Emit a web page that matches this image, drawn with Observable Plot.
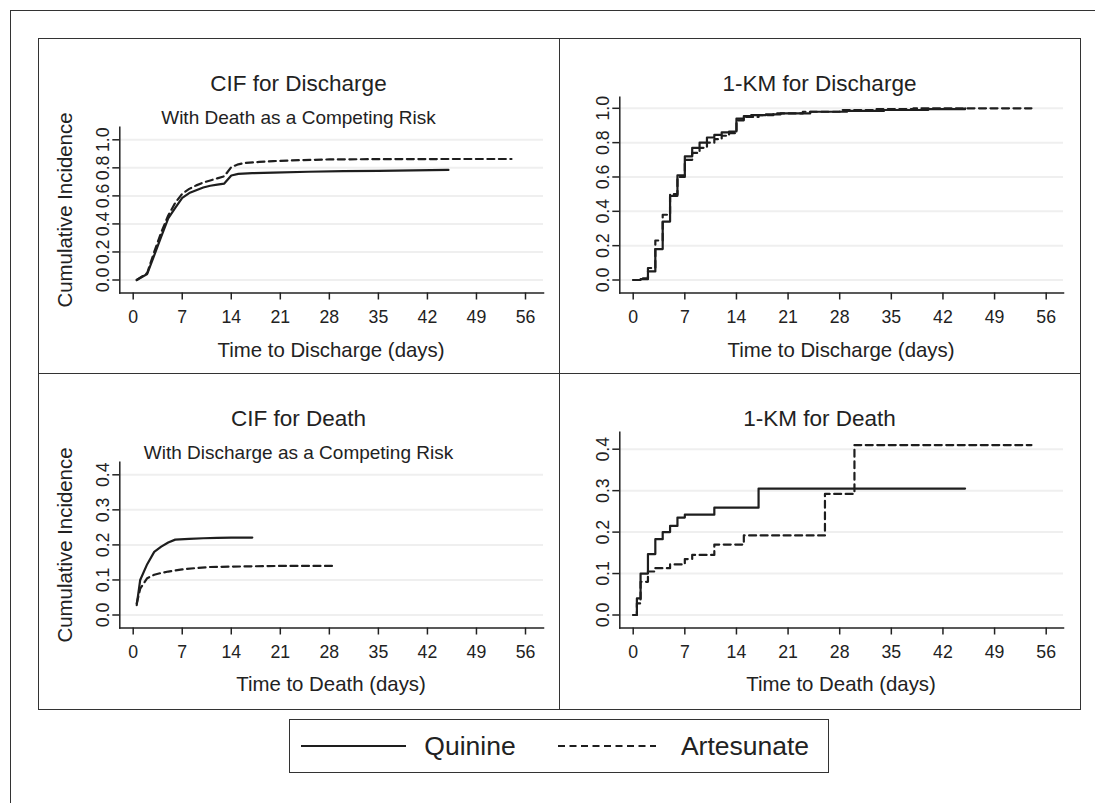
<!DOCTYPE html>
<html><head><meta charset="utf-8">
<script src="https://cdn.jsdelivr.net/npm/d3@7"></script>
<script src="https://cdn.jsdelivr.net/npm/@observablehq/plot@0.6"></script>
<style>
body{margin:0;background:#fff;}
#root{position:relative;width:1095px;height:803px;overflow:hidden;background:#fff;font-family:"Liberation Sans",Arial,sans-serif;color:#222;}
.abs{position:absolute;}
.txt{position:absolute;white-space:nowrap;line-height:1;transform:translate(-50%,-50%);}
</style></head><body><div id="root"></div>
<script>
// ---------------- data ----------------
const xTicks = [0, 7, 14, 21, 28, 35, 42, 49, 56];
const yTicksDischarge = [0, 0.2, 0.4, 0.6, 0.8, 1.0];
const yTicksDeath = [0, 0.1, 0.2, 0.3, 0.4];
const seriesNames = ["Quinine", "Artesunate"];

// CIF for discharge
const cifDisQuinineT = [0.5, 2, 3, 4, 5, 6, 7, 8, 9, 10, 11, 12, 13, 14, 15, 17, 20, 25, 30, 35, 40, 45];
const cifDisQuinineY = [0, 0.043, 0.176, 0.31, 0.44, 0.514, 0.586, 0.62, 0.64, 0.66, 0.672, 0.68, 0.688, 0.745, 0.757, 0.762, 0.766, 0.772, 0.776, 0.779, 0.782, 0.785];
const cifDisArtesunateT = [0.5, 2, 3, 4, 5, 6, 7, 8, 9, 10, 11, 12, 13, 14, 15, 16, 18, 20, 24, 28, 35, 45, 54];
const cifDisArtesunateY = [0, 0.05, 0.2, 0.34, 0.46, 0.55, 0.615, 0.65, 0.675, 0.695, 0.71, 0.725, 0.74, 0.805, 0.825, 0.835, 0.842, 0.848, 0.855, 0.86, 0.862, 0.863, 0.863];

// 1-KM for discharge
const kmDisQuinineT = [0, 1, 2, 3, 4, 5, 6, 7, 8, 9, 10, 11, 12, 13, 14, 15, 16, 18, 20, 24, 29, 34, 40, 45];
const kmDisQuinineY = [0, 0.005, 0.05, 0.18, 0.34, 0.49, 0.61, 0.72, 0.77, 0.80, 0.83, 0.845, 0.86, 0.865, 0.94, 0.955, 0.96, 0.965, 0.97, 0.98, 0.985, 0.99, 0.995, 1.0];
const kmDisArtesunateT = [0, 1, 2, 3, 4, 5, 6, 7, 8, 9, 10, 11, 12, 13, 14, 15, 17, 19, 23, 28, 33, 38, 54];
const kmDisArtesunateY = [0, 0.01, 0.07, 0.23, 0.38, 0.50, 0.60, 0.70, 0.74, 0.77, 0.80, 0.82, 0.84, 0.855, 0.93, 0.95, 0.96, 0.97, 0.98, 0.99, 0.995, 1.0, 1.0];

// CIF for death
const cifDeathQuinineT = [0.5, 1, 2, 3, 4, 5, 6, 8, 10, 12, 14, 17];
const cifDeathQuinineY = [0.028, 0.1, 0.145, 0.18, 0.195, 0.207, 0.215, 0.217, 0.219, 0.22, 0.221, 0.221];
const cifDeathArtesunateT = [0.5, 1, 1.5, 2, 3, 4, 5, 7, 9, 11, 14, 17, 21, 25, 29];
const cifDeathArtesunateY = [0.033, 0.075, 0.09, 0.105, 0.115, 0.12, 0.124, 0.13, 0.134, 0.137, 0.138, 0.139, 0.14, 0.14, 0.14];

// 1-KM for death
const kmDeathQuinineT = [0, 0.5, 1, 2, 3, 4, 5, 6, 7, 11, 17, 45];
const kmDeathQuinineY = [0, 0.04, 0.1, 0.147, 0.183, 0.2, 0.215, 0.235, 0.242, 0.259, 0.305, 0.305];
const kmDeathArtesunateT = [0, 0.5, 1, 2, 3, 5, 7, 8, 11, 15, 26, 30, 54];
const kmDeathArtesunateY = [0, 0.028, 0.08, 0.105, 0.113, 0.122, 0.135, 0.145, 0.17, 0.192, 0.292, 0.41, 0.41];

// ---------------- helpers ----------------
const root = document.getElementById("root");
function rows(T, Y) { return T.map((t, i) => ({t, v: Y[i]})); }
function box(x, y, w, h, css) {
  const d = document.createElement("div");
  d.className = "abs";
  Object.assign(d.style, {left: x + "px", top: y + "px", width: w + "px", height: h + "px", boxSizing: "border-box"}, css);
  root.appendChild(d);
  return d;
}
function text(str, cx, cy, size, rot) {
  const d = document.createElement("div");
  d.className = "txt";
  d.textContent = str;
  d.style.left = cx + "px";
  d.style.top = cy + "px";
  d.style.fontSize = size + "px";
  if (rot) d.style.transform = "translate(-50%,-50%) rotate(" + rot + "deg)";
  root.appendChild(d);
  return d;
}

const PW = 521, PH = 335;
const INK = "#1e1e1e";
function panel(o) {
  const svg = Plot.plot({
    width: PW, height: PH,
    marginLeft: o.axisX, marginRight: PW - o.axisEnd, marginTop: o.frameTop, marginBottom: PH - 254.5,
    x: {domain: [0, 56], range: [o.x0, o.x56]},
    y: {domain: [0, o.yMax], range: [241.5, o.yTop]},
    style: {fontFamily: '"Liberation Sans", Arial, sans-serif', fontSize: "17.7px", color: "#222", background: "transparent", overflow: "visible"},
    marks: [
      Plot.gridY(o.yTicks, {stroke: "#efefef", strokeOpacity: 1, strokeWidth: 2}),
      Plot.axisX(xTicks, {tickSize: 7, tickPadding: 10, label: null, strokeWidth: 1.5}),
      Plot.axisY(o.yTicks, {tickSize: 7, tickPadding: 4, tickRotate: -90, tickFormat: d3.format(".1f"), label: null, strokeWidth: 1.5}),
      Plot.frame({anchor: "left", stroke: "#222", strokeWidth: 1.5}),
      Plot.frame({anchor: "bottom", stroke: "#222", strokeWidth: 1.5}),
      Plot.line(o.a, {x: "t", y: "v", curve: o.curve, stroke: INK, strokeWidth: 2.2, strokeDasharray: "7,4.5"}),
      Plot.line(o.q, {x: "t", y: "v", curve: o.curve, stroke: INK, strokeWidth: 2.2})
    ]
  });
  svg.style.position = "absolute";
  svg.style.left = o.left + "px";
  svg.style.top = o.top + "px";
  root.appendChild(svg);
}

// ---------------- frames ----------------
box(10, 10, 1200, 900, {border: "1.5px solid #333"});
box(38, 38, 1043, 672, {border: "1.5px solid #333"});
box(558.5, 38, 1.5, 672, {background: "#333"});
box(38, 372.5, 1043, 1.5, {background: "#333"});

// ---------------- panels ----------------
panel({left: 38, top: 38, axisX: 81.3, axisEnd: 505, frameTop: 88.7, x0: 94.7, x56: 487,
  yMax: 1, yTop: 101.3, yTicks: yTicksDischarge, curve: "linear",
  q: rows(cifDisQuinineT, cifDisQuinineY), a: rows(cifDisArtesunateT, cifDisArtesunateY)});
panel({left: 559, top: 38, axisX: 60.3, axisEnd: 504, frameTop: 58.7, x0: 73.7, x56: 486.7,
  yMax: 1, yTop: 69.8, yTicks: yTicksDischarge, curve: "step-after",
  q: rows(kmDisQuinineT, kmDisQuinineY), a: rows(kmDisArtesunateT, kmDisArtesunateY)});
panel({left: 38, top: 373, axisX: 81.3, axisEnd: 505, frameTop: 88.7, x0: 94.7, x56: 487,
  yMax: 0.4, yTop: 101.3, yTicks: yTicksDeath, curve: "linear",
  q: rows(cifDeathQuinineT, cifDeathQuinineY), a: rows(cifDeathArtesunateT, cifDeathArtesunateY)});
panel({left: 559, top: 373, axisX: 60.3, axisEnd: 504, frameTop: 58.7, x0: 73.7, x56: 486.7,
  yMax: 0.4, yTop: 75.7, yTicks: yTicksDeath, curve: "step-after",
  q: rows(kmDeathQuinineT, kmDeathQuinineY), a: rows(kmDeathArtesunateT, kmDeathArtesunateY)});

// ---------------- titles ----------------
text("CIF for Discharge", 298.5, 84, 22.5);
text("With Death as a Competing Risk", 298.5, 117, 19);
text("1-KM for Discharge", 819.5, 84, 22.5);
text("CIF for Death", 298.5, 419, 22.5);
text("With Discharge as a Competing Risk", 298.5, 452, 19);
text("1-KM for Death", 819.5, 419, 22.5);
text("Cumulative Incidence", 65, 209.6, 20.4, -90);
text("Cumulative Incidence", 65, 545, 20.4, -90);
text("Time to Discharge (days)", 331, 350, 20.4);
text("Time to Discharge (days)", 841, 350, 20.4);
text("Time to Death (days)", 331, 684, 20.4);
text("Time to Death (days)", 841, 684, 20.4);

// ---------------- legend ----------------
box(289, 719, 540, 54, {border: "1.5px solid #333"});
const lg = d3.select(root).append("svg").attr("width", 540).attr("height", 54)
  .style("position", "absolute").style("left", "289px").style("top", "719px");
lg.append("line").attr("x1", 12).attr("x2", 117).attr("y1", 27).attr("y2", 27).attr("stroke", INK).attr("stroke-width", 2.2);
lg.append("line").attr("x1", 269).attr("x2", 367).attr("y1", 27).attr("y2", 27).attr("stroke", INK).attr("stroke-width", 2.2).attr("stroke-dasharray", "7,4.5");
text(seriesNames[0], 289 + 181, 746, 26.5);
text(seriesNames[1], 289 + 456, 746, 26.5);
</script></body></html>
